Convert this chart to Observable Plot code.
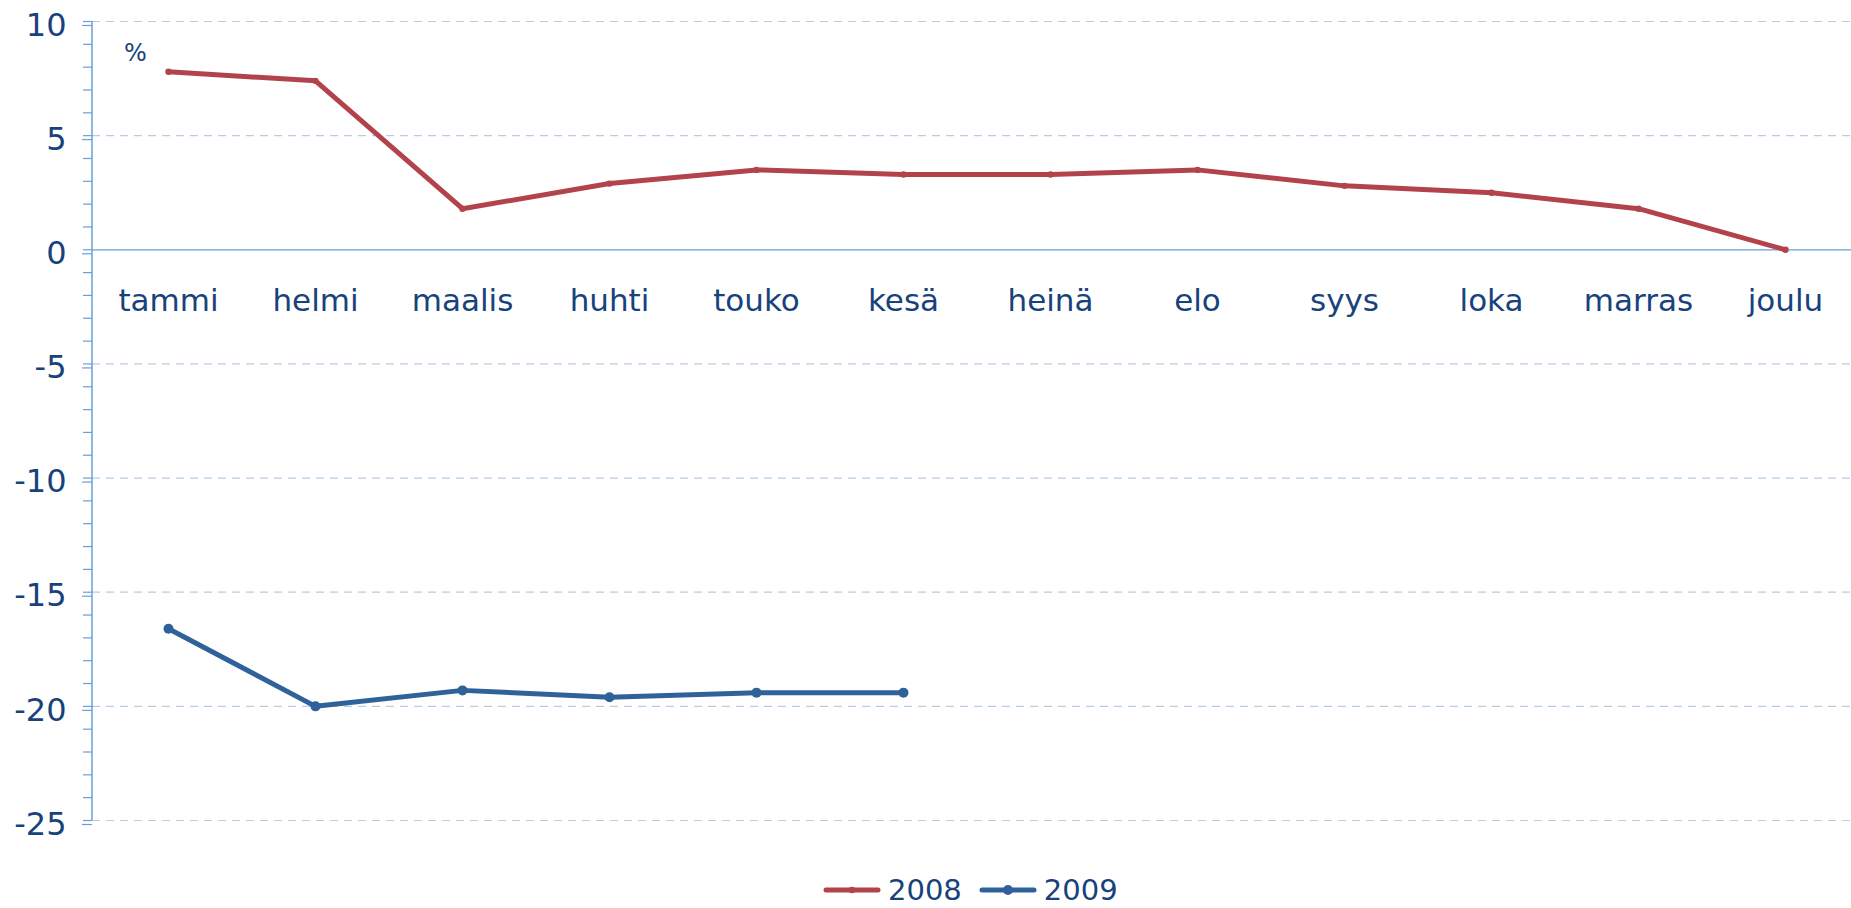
<!DOCTYPE html>
<html>
<head>
<meta charset="utf-8">
<script src="https://cdn.jsdelivr.net/npm/d3@7"></script>
<script src="https://cdn.jsdelivr.net/npm/@observablehq/plot@0.6"></script>
<style>
  html, body { margin: 0; padding: 0; background: #fff; }
  #wrap { position: relative; width: 1851px; height: 908px; font-family: "DejaVu Sans", sans-serif; overflow: hidden; }
  #legend { position: absolute; left: 823px; top: 873px; height: 34px; display: flex; align-items: center; font-size: 29px; line-height: 34px; color: #17427c; }
  #legend .item { display: flex; align-items: center; }
  #legend svg { display: block; }
</style>
</head>
<body>
<div id="wrap">
  <div id="chart"></div>
  <div id="legend"></div>
</div>
<script>
const months = ["tammi", "helmi", "maalis", "huhti", "touko", "kesä", "heinä", "elo", "syys", "loka", "marras", "joulu"];
const values2008 = [7.8, 7.4, 1.8, 2.9, 3.5, 3.3, 3.3, 3.5, 2.8, 2.5, 1.8, 0.0];
const values2009 = [-16.6, -20.0, -19.3, -19.6, -19.4, -19.4];
const majorTicks = [10, 5, 0, -5, -10, -15, -20, -25];
const minorTicks = d3.range(-25, 11, 1);
const gridTicks = [10, 5, -5, -10, -15, -20, -25];
const seriesNames = ["2008", "2009"];
const seriesColors = ["#b3434b", "#2e6299"];
const unitLabel = "%";

const textColor = "#17427c";
const axisColor = "#6a9fd6";
const gridColor = "#b6cde6";

const d2008 = values2008.map((v, i) => ({month: months[i], value: v}));
const d2009 = values2009.map((v, i) => ({month: months[i], value: v}));

function axisLine(index, scales, values, dimensions) {
  const x = dimensions.marginLeft;
  const y1 = scales.y(d3.max(majorTicks));
  const y2 = scales.y(d3.min(majorTicks));
  const ns = "http://www.w3.org/2000/svg";
  const line = document.createElementNS(ns, "line");
  line.setAttribute("x1", x); line.setAttribute("x2", x);
  line.setAttribute("y1", y1); line.setAttribute("y2", y2);
  line.setAttribute("stroke", axisColor);
  line.setAttribute("stroke-width", 1.5);
  return line;
}

const chart = Plot.plot({
  width: 1851,
  height: 860,
  marginLeft: 92,
  marginRight: 0,
  marginTop: 21,
  marginBottom: 40,
  style: {fontFamily: "DejaVu Sans, sans-serif", background: "#fff", overflow: "visible"},
  x: {type: "point", domain: months, range: [164.3, 1787.7], padding: 0, axis: null},
  y: {domain: [-25, 10], axis: null},
  marks: [
    Plot.ruleY(gridTicks, {stroke: gridColor, strokeWidth: 1.2, strokeDasharray: "8,6"}),
    Plot.ruleY([0], {stroke: axisColor, strokeWidth: 1.3}),
    Plot.axisY({ticks: minorTicks, tickSize: 9, tickFormat: () => "", label: null, stroke: axisColor, strokeWidth: 1.2}),
    Plot.axisY({ticks: majorTicks, tickSize: 10, tickPadding: 16, dy: 4, tickFormat: d => String(d), label: null, fontSize: 32, fill: textColor, stroke: axisColor, strokeWidth: 1.2}),
    axisLine,
    Plot.text(months, {x: d => d, y: () => 0, dy: 51, text: d => d, fontSize: 31, fill: textColor, textAnchor: "middle"}),
    Plot.text([unitLabel], {frameAnchor: "top-left", dx: 43, dy: 22, text: d => d, fontSize: 24, fill: textColor, textAnchor: "middle"}),
    Plot.line(d2008, {x: "month", y: "value", stroke: seriesColors[0], strokeWidth: 5, strokeLinejoin: "round", strokeLinecap: "round"}),
    Plot.dot(d2008, {x: "month", y: "value", r: 3.2, fill: seriesColors[0]}),
    Plot.line(d2009, {x: "month", y: "value", stroke: seriesColors[1], strokeWidth: 5, strokeLinejoin: "round", strokeLinecap: "round"}),
    Plot.dot(d2009, {x: "month", y: "value", r: 5, fill: seriesColors[1]})
  ]
});
document.getElementById("chart").appendChild(chart);

// legend
const legend = document.getElementById("legend");
const markerR = [3.2, 5];
seriesNames.forEach((name, i) => {
  const item = document.createElement("div");
  item.className = "item";
  item.style.marginRight = i === 0 ? "17px" : "0";
  item.innerHTML = `<svg width="58" height="14"><line x1="3" x2="55" y1="7" y2="7" stroke="${seriesColors[i]}" stroke-width="5" stroke-linecap="round"/><circle cx="29" cy="7" r="${markerR[i]}" fill="${seriesColors[i]}"/></svg><span style="margin-left:7px">${name}</span>`;
  legend.appendChild(item);
});
</script>
</body>
</html>
